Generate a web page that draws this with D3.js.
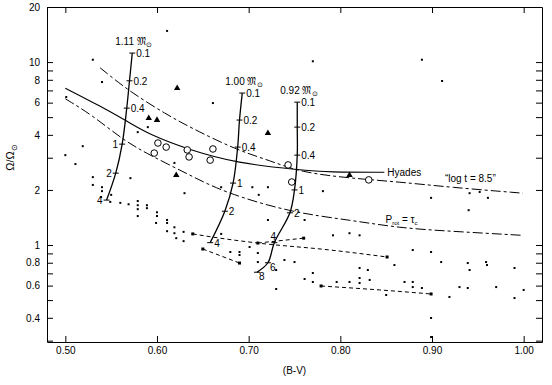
<!DOCTYPE html>
<html><head><meta charset="utf-8">
<script src="https://cdn.jsdelivr.net/npm/d3@7"></script>
<style>
body{margin:0;background:#fff}
svg{display:block}
text{font-family:"Liberation Sans",Arial,sans-serif;fill:#000}
</style>
</head><body>
<svg id="c" width="552" height="385"></svg>
<script>
// ---------- data ----------
const xTicks = [0.50, 0.60, 0.70, 0.80, 0.90, 1.00];
const yTickLabels = [20, 10, 8, 6, 4, 2, 1, 0.8, 0.6, 0.4];
const yMinorTicks = [9, 7, 5, 3, 0.9, 0.7, 0.5, 0.3];

const hyadesBV = [0.500, 0.538, 0.567, 0.592, 0.636, 0.687, 0.756, 0.788, 0.848];
const hyadesOmega = [7.2, 5.75, 4.76, 4.0, 3.3, 2.8, 2.57, 2.5, 2.5];

const logt85BV = [0.538, 0.570, 0.611, 0.636, 0.687, 0.723, 0.756, 0.810, 0.865, 0.919, 0.999];
const logt85Omega = [9.3, 6.9, 5.15, 4.4, 3.3, 2.9, 2.5, 2.32, 2.21, 2.07, 1.92];

const protBV = [0.500, 0.530, 0.563, 0.592, 0.636, 0.672, 0.745, 0.810, 0.864, 0.919, 0.998];
const protOmega = [6.3, 5.1, 3.75, 3.1, 2.41, 1.95, 1.51, 1.37, 1.24, 1.19, 1.13];

const track111BV = [0.573, 0.570, 0.567, 0.562, 0.555, 0.545];
const track111Omega = [11.2, 7.9, 5.6, 3.56, 2.47, 1.76];
const track111Ages = ["0.1", "0.2", "0.4", "1", "2", "4"];

const track100BV = [0.693, 0.690, 0.688, 0.683, 0.674, 0.658];
const track100Omega = [6.77, 4.82, 3.43, 2.18, 1.53, 1.03];
const track100Ages = ["0.1", "0.2", "0.4", "1", "2", "4"];

const track092BV = [0.753, 0.753, 0.753, 0.750, 0.745, 0.728, 0.721, 0.709];
const track092Omega = [6.04, 4.41, 3.10, 2.0, 1.50, 1.03, 0.80, 0.71];
const track092Ages = ["0.1", "0.2", "0.4", "1", "2", "4", "6", "8"];

const trackMasses = ["1.11", "1.00", "0.92"];

const circleBV = [0.601, 0.610, 0.597, 0.633, 0.635, 0.661, 0.658, 0.743, 0.747, 0.831];
const circleOmega = [3.61, 3.43, 3.18, 3.31, 3.03, 3.35, 2.91, 2.74, 2.21, 2.27];

const triBV = [0.622, 0.591, 0.600, 0.621, 0.721, 0.810];
const triOmega = [7.2, 4.94, 4.82, 2.41, 4.09, 2.41];

const line1BV = [0.639, 0.658, 0.710, 0.788, 0.851];
const line1Omega = [1.15, 1.11, 1.025, 0.94, 0.86];
const line2BV = [0.710, 0.760];
const line2Omega = [1.025, 1.09];
const line3BV = [0.650, 0.690];
const line3Omega = [0.951, 0.797];
const line4BV = [0.779, 0.843, 0.899];
const line4Omega = [0.597, 0.568, 0.540];

const dotBV = [0.611,0.530,0.540,0.501,0.519,0.500,0.511,0.579,0.590,0.619,0.630,0.530,0.530,0.540,0.540,0.550,0.549,0.560,0.569,0.579,
  0.579,0.579,0.579,0.589,0.589,0.600,0.600,0.599,0.611,0.611,0.611,0.619,0.619,0.621,0.629,0.629,0.670,0.680,0.690,0.690,
  0.701,0.710,0.710,0.730,0.739,0.750,0.761,0.770,0.770,0.730,0.792,0.761,0.721,0.670,0.711,0.721,0.781,0.810,0.821,0.821,
  0.830,0.796,0.810,0.821,0.821,0.832,0.850,0.870,0.879,0.879,0.889,0.899,0.899,0.919,0.930,0.939,0.939,0.941,0.959,0.960,
  0.990,0.970,1.000,0.990,0.879,0.899,0.910,0.859,0.941,0.952,0.961,0.940,0.899,0.889,0.911,0.770,0.661,0.704,0.571,0.539];
const dotOmega = [14.8,10.3,7.78,6.44,3.47,3.10,2.77,4.14,4.41,2.81,1.92,2.35,2.13,2.07,1.97,1.88,1.72,1.70,1.67,1.74,
  1.65,1.57,1.44,1.65,1.59,1.51,1.44,1.32,1.37,1.32,1.19,1.25,1.16,1.09,1.18,1.05,1.15,0.916,0.916,0.882,
  0.975,0.904,0.807,0.730,0.828,0.807,0.652,0.703,0.628,0.575,1.13,1.37,1.37,2.07,1.88,2.07,1.97,1.16,1.13,0.749,
  0.730,0.628,0.628,0.660,0.620,0.644,0.533,0.628,0.628,0.589,0.582,0.399,0.314,0.520,0.589,0.582,0.797,0.730,0.807,0.777,
  0.749,0.589,0.568,0.513,0.939,0.916,0.807,0.777,1.92,1.95,1.81,1.55,1.81,10.3,7.88,10.1,5.97,2.07,2.32,1.83];

// ---------- chart ----------
const svg = d3.select("#c");
const x = d3.scaleLinear().domain([0.48, 1.02]).range([47, 542]);
const y = d3.scaleLog().domain([0.295, 20]).range([342, 7]);
const [x0, x1] = x.range();
const [yb, yt] = y.range();

const fs = 10;

// axes
const fmtY = d => (yTickLabels.includes(d) ? String(d) : "");
const allY = yTickLabels.concat(yMinorTicks);

svg.append("g").attr("transform", `translate(0,${yb})`)
  .call(d3.axisBottom(x).tickValues(xTicks).tickFormat(d3.format(".2f")).tickSize(-6).tickSizeOuter(0).tickPadding(5));
svg.append("g").attr("transform", `translate(0,${yt})`)
  .call(d3.axisTop(x).tickValues(xTicks).tickFormat("").tickSize(-6).tickSizeOuter(0));
svg.append("g").attr("transform", `translate(${x0},0)`)
  .call(d3.axisLeft(y).tickValues(allY).tickFormat(fmtY).tickSize(-6).tickSizeOuter(0).tickPadding(7));
svg.append("g").attr("transform", `translate(${x1},0)`)
  .call(d3.axisRight(y).tickValues(allY).tickFormat("").tickSize(-6).tickSizeOuter(0));

svg.selectAll(".tick text").attr("font-size", fs).attr("font-family", "Liberation Sans, Arial, sans-serif");
svg.selectAll(".domain").attr("stroke", "#000");
svg.selectAll(".tick line").attr("stroke", "#000");

// axis titles
svg.append("text").attr("x", (x0 + x1) / 2).attr("y", 374).attr("text-anchor", "middle")
  .attr("font-size", fs).text("(B-V)");
const yl = svg.append("text").attr("transform", `translate(14,${(yt + yb) / 2 - 17}) rotate(-90)`)
  .attr("text-anchor", "middle").attr("font-size", 11);
yl.append("tspan").text("Ω/Ω");
yl.append("tspan").attr("font-size", 8).attr("dy", 3).text("⊙");

const plot = svg.append("g");

function pts(bv, om) { return bv.map((b, i) => [b, om[i]]); }
const smooth = d3.line().x(d => x(d[0])).y(d => y(d[1])).curve(d3.curveBasis);
const straightish = d3.line().x(d => x(d[0])).y(d => y(d[1])).curve(d3.curveMonotoneX);

// curves
plot.append("path").datum(pts(hyadesBV, hyadesOmega)).attr("d", smooth)
  .attr("fill", "none").attr("stroke", "#000").attr("stroke-width", 1.1);
plot.append("path").datum(pts(logt85BV, logt85Omega)).attr("d", smooth)
  .attr("fill", "none").attr("stroke", "#000").attr("stroke-width", 1).attr("stroke-dasharray", "10,3,3,3");
plot.append("path").datum(pts(protBV, protOmega)).attr("d", smooth)
  .attr("fill", "none").attr("stroke", "#000").attr("stroke-width", 1).attr("stroke-dasharray", "10,3,3,3");

// lower dashed segments with end markers
const lowers = [pts(line1BV, line1Omega), pts(line2BV, line2Omega), pts(line3BV, line3Omega), pts(line4BV, line4Omega)];
lowers.forEach(l => {
  plot.append("path").datum(l).attr("d", straightish).attr("fill", "none").attr("stroke", "#000")
    .attr("stroke-width", 1).attr("stroke-dasharray", "4,3");
  [l[0], l[l.length - 1]].forEach(p => {
    plot.append("rect").attr("x", x(p[0]) - 1.5).attr("y", y(p[1]) - 1.5).attr("width", 3).attr("height", 3).attr("fill", "#000");
  });
});

// evolutionary tracks
const tracks = [
  {bv: track111BV, om: track111Omega, ages: track111Ages, m: trackMasses[0],
   side: ["r", "r", "r", "l", "l", "l"]},
  {bv: track100BV, om: track100Omega, ages: track100Ages, m: trackMasses[1],
   side: ["r", "r", "r", "r", "r", "r"]},
  {bv: track092BV, om: track092Omega, ages: track092Ages, m: trackMasses[2],
   side: ["r", "r", "r", "r", "r", "lu", "rd", "rd"]}
];
const trackLine = d3.line().x(d => x(d[0])).y(d => y(d[1])).curve(d3.curveCatmullRom.alpha(0.5));
tracks.forEach(t => {
  const p = pts(t.bv, t.om);
  plot.append("path").datum(p).attr("d", trackLine).attr("fill", "none").attr("stroke", "#000").attr("stroke-width", 1.3);
  p.forEach((d, i) => {
    const px = x(d[0]), py = y(d[1]);
    plot.append("line").attr("x1", px - 3).attr("x2", px + 3).attr("y1", py).attr("y2", py)
      .attr("stroke", "#000").attr("stroke-width", 1);
    const s = t.side[i];
    const tx = plot.append("text").attr("font-size", fs).text(t.ages[i]);
    if (s === "r") tx.attr("x", px + 4).attr("y", py + 4);
    else if (s === "l") tx.attr("x", px - 4).attr("y", py + 4).attr("text-anchor", "end");
    else if (s === "lu") tx.attr("x", px - 1).attr("y", py - 3).attr("text-anchor", "middle");
    else if (s === "rd") tx.attr("x", px + 2).attr("y", py + 8).attr("text-anchor", "start");
  });
  const mt = plot.append("text").attr("x", x(t.bv[0]) - 17).attr("y", y(t.om[0]) - 8).attr("font-size", fs);
  mt.append("tspan").text(t.m + " 𝔐");
  mt.append("tspan").attr("font-size", 7).attr("dy", 2).text("⊙");
});

// scattered field stars
plot.selectAll(".dot").data(pts(dotBV, dotOmega)).join("rect").attr("class", "dot")
  .attr("x", d => x(d[0]) - 1).attr("y", d => y(d[1]) - 1).attr("width", 2).attr("height", 2).attr("fill", "#000");

// open circles
plot.selectAll(".oc").data(pts(circleBV, circleOmega)).join("circle").attr("class", "oc")
  .attr("cx", d => x(d[0])).attr("cy", d => y(d[1])).attr("r", 3.3)
  .attr("fill", "#fff").attr("stroke", "#000").attr("stroke-width", 1);

// filled triangles
plot.selectAll(".tri").data(pts(triBV, triOmega)).join("path").attr("class", "tri")
  .attr("transform", d => `translate(${x(d[0])},${y(d[1])})`)
  .attr("d", d3.symbol(d3.symbolTriangle, 18)).attr("fill", "#000");

// curve labels
const hl = pts(hyadesBV, hyadesOmega).slice(-1)[0];
plot.append("text").attr("x", x(hl[0]) + 3).attr("y", y(hl[1]) + 4).attr("font-size", fs).text("Hyades");

const ll = pts(logt85BV, logt85Omega);
plot.append("text").attr("x", x(ll[8][0]) + 45).attr("y", y(ll[8][1]) + 0).attr("font-size", fs).text("“log t = 8.5”");

const pl = pts(protBV, protOmega);
const pt = plot.append("text").attr("x", x(pl[7][0]) + 36).attr("y", y(pl[7][1]) + 3).attr("font-size", fs);
pt.append("tspan").text("P");
pt.append("tspan").attr("font-size", 6).attr("dy", 2).text("rot");
pt.append("tspan").attr("dy", -2).text(" = τ");
pt.append("tspan").attr("font-size", 6).attr("dy", 2).text("c");
</script>
</body></html>
